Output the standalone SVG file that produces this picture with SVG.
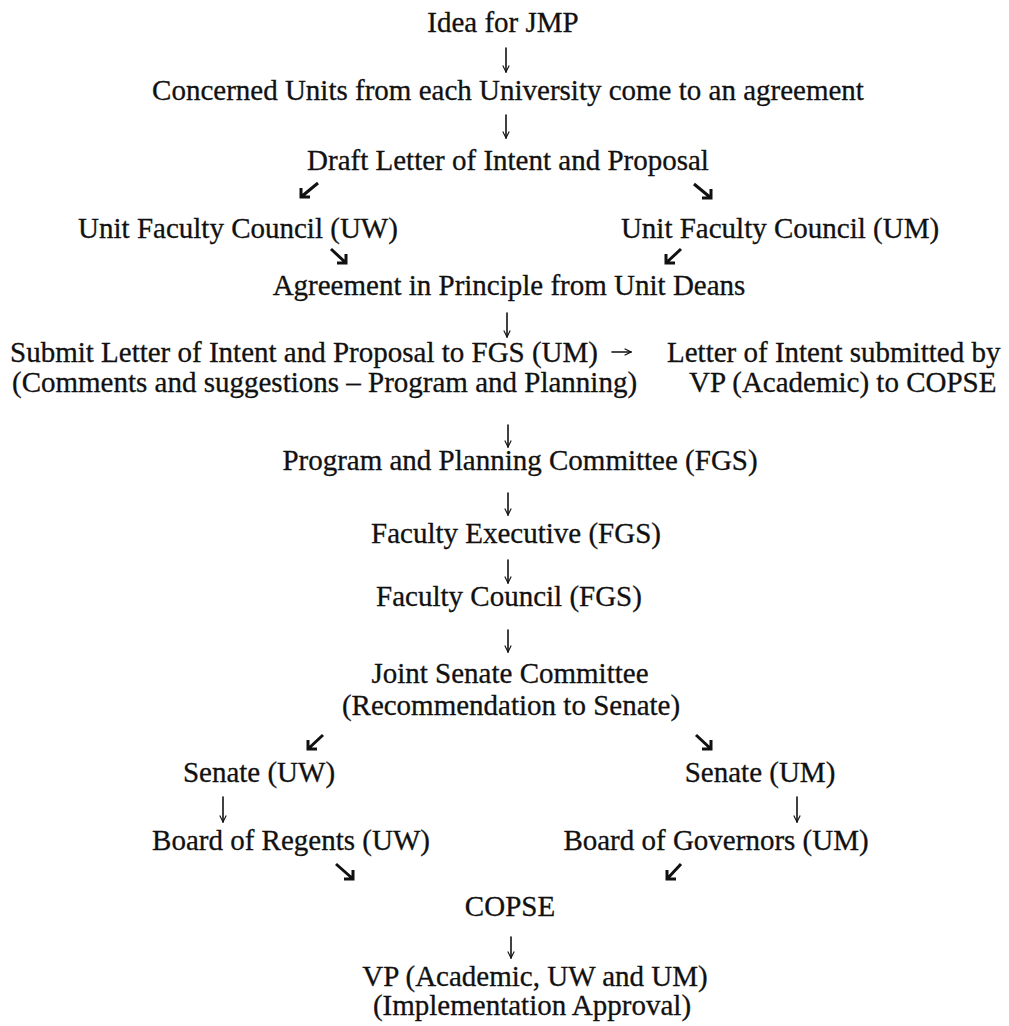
<svg xmlns="http://www.w3.org/2000/svg" width="1009" height="1026" viewBox="0 0 1009 1026">
<style>
text{font-family:"Liberation Serif","Times New Roman",serif;font-size:29px;fill:#111;stroke:#111;stroke-width:0.3}
.c{text-anchor:middle}
.s{text-anchor:start}
.thin{fill:none;stroke:#111;stroke-width:1.6;stroke-linecap:round;stroke-linejoin:round}
.bold{fill:none;stroke:#111;stroke-width:3;stroke-linecap:butt;stroke-linejoin:miter}
</style>
<defs>
<marker id="vh" viewBox="0 0 10 10" refX="9" refY="5" markerWidth="8" markerHeight="8" markerUnits="userSpaceOnUse" orient="auto">
<path d="M1,1 L9,5 L1,9" fill="none" stroke="#111" stroke-width="1.4"/>
</marker>
</defs>
<rect width="1009" height="1026" fill="#fff"/>
<g id="n-idea"><text class="c" x="503" y="32">Idea for JMP</text></g>
<g id="n-concerned"><text class="c" x="508" y="100">Concerned Units from each University come to an agreement</text></g>
<g id="n-draft"><text class="c" x="508" y="170">Draft Letter of Intent and Proposal</text></g>
<g id="n-ufc-uw"><text class="c" x="238" y="238">Unit Faculty Council (UW)</text></g>
<g id="n-ufc-um"><text class="c" x="780" y="238">Unit Faculty Council (UM)</text></g>
<g id="n-agreement"><text class="c" x="509" y="295">Agreement in Principle from Unit Deans</text></g>
<g id="n-submit"><text class="s" x="10" y="362">Submit Letter of Intent and Proposal to FGS (UM)</text><text class="s" x="12" y="392">(Comments and suggestions – Program and Planning)</text></g>
<g id="n-loi"><text class="s" x="667" y="362">Letter of Intent submitted by</text><text class="s" x="689" y="392">VP (Academic) to COPSE</text></g>
<g id="n-ppc"><text class="c" x="520" y="470">Program and Planning Committee (FGS)</text></g>
<g id="n-fe"><text class="c" x="516" y="543">Faculty Executive (FGS)</text></g>
<g id="n-fc"><text class="c" x="509" y="606">Faculty Council (FGS)</text></g>
<g id="n-jsc"><text class="c" x="510" y="683">Joint Senate Committee</text><text class="c" x="511" y="715">(Recommendation to Senate)</text></g>
<g id="n-senate-uw"><text class="c" x="259" y="782">Senate (UW)</text></g>
<g id="n-senate-um"><text class="c" x="760" y="782">Senate (UM)</text></g>
<g id="n-bor"><text class="c" x="291" y="850">Board of Regents (UW)</text></g>
<g id="n-bog"><text class="c" x="716" y="850">Board of Governors (UM)</text></g>
<g id="n-copse"><text class="c" x="510" y="916">COPSE</text></g>
<g id="n-vp"><text class="c" x="535" y="986">VP (Academic, UW and UM)</text><text class="c" x="532" y="1015">(Implementation Approval)</text></g>
<g id="connectors">
<path class="thin" marker-end="url(#vh)" d="M506,48 V72"/>
<path class="thin" marker-end="url(#vh)" d="M506,115 V138"/>
<path class="thin" marker-end="url(#vh)" d="M507,313 V337"/>
<path class="thin" marker-end="url(#vh)" d="M612,352 H631"/>
<path class="thin" marker-end="url(#vh)" d="M508,425 V447"/>
<path class="thin" marker-end="url(#vh)" d="M508,493 V515"/>
<path class="thin" marker-end="url(#vh)" d="M508,560 V583"/>
<path class="thin" marker-end="url(#vh)" d="M508,630 V652"/>
<path class="thin" marker-end="url(#vh)" d="M223,797 V822"/>
<path class="thin" marker-end="url(#vh)" d="M797,797 V822"/>
<path class="thin" marker-end="url(#vh)" d="M511,937 V958"/>
<path class="bold" d="M318,183 L301,197 M301,188 V197 H310"/>
<path class="bold" d="M694,184 L711,198 M702,198 H711 V189"/>
<path class="bold" d="M331,249 L346,263 M337,263 H346 V254"/>
<path class="bold" d="M681,249 L666,263 M666,254 V263 H675"/>
<path class="bold" d="M323,735 L308,749 M308,740 V749 H317"/>
<path class="bold" d="M696,735 L711,749 M702,749 H711 V740"/>
<path class="bold" d="M336,864 L353,879 M344,879 H353 V870"/>
<path class="bold" d="M681,864 L667,879 M667,870 V879 H676"/>
</g>
</svg>
